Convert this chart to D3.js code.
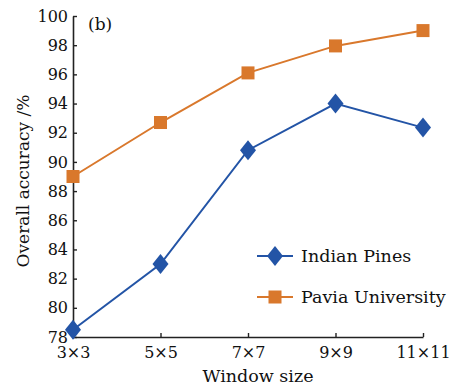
<!DOCTYPE html>
<html>
<head>
<meta charset="utf-8">
<script src="https://cdn.jsdelivr.net/npm/d3@7"></script>
<style>
  body { margin: 0; background: #fff; }
  text { font-family: "DejaVu Serif", serif; fill: #111; }
</style>
</head>
<body>
<div id="chart"></div>
<script>
// window sizes on the x axis
const windowSizes = ["3×3", "5×5", "7×7", "9×9", "11×11"];
// overall accuracy (%) for each data set
const indianPines = [78.5, 83.0, 90.8, 94.0, 92.35];
const paviaUniversity = [89.0, 92.7, 96.1, 97.95, 99.0];
const yTicks = [78, 80, 82, 84, 86, 88, 90, 92, 94, 96, 98, 100];

const width = 462, height = 388;
const margin = {top: 16, right: 39, bottom: 51, left: 73};

let svg = d3.select("#chart").append("svg")
    .attr("width", width)
    .attr("height", height);

let x = d3.scalePoint()
    .domain(windowSizes)
    .range([margin.left, width - margin.right]);

let y = d3.scaleLinear()
    .domain([78, 100])
    .range([height - margin.bottom, margin.top]);

// axes, ticks pointing inward
let xAxis = svg.append("g")
    .attr("transform", "translate(0," + (height - margin.bottom) + ")")
    .call(d3.axisBottom(x).tickSizeInner(-4).tickSizeOuter(0).tickPadding(10));
let yAxis = svg.append("g")
    .attr("transform", "translate(" + margin.left + ",0)")
    .call(d3.axisLeft(y).tickValues(yTicks).tickSizeInner(-4).tickSizeOuter(0).tickPadding(5));

[xAxis, yAxis].forEach(a => {
    a.select(".domain").attr("stroke", "#222").attr("stroke-width", 1.6);
    a.selectAll(".tick line").attr("stroke", "#222").attr("stroke-width", 1.4);
    a.selectAll(".tick text")
        .style("font-family", "DejaVu Serif")
        .style("font-size", "16px")
        .attr("fill", "#111");
});

const series = [
    {name: "Indian Pines", values: indianPines, color: "#2354a6", shape: "diamond"},
    {name: "Pavia University", values: paviaUniversity, color: "#d9782c", shape: "square"}
];

function marker(g, shape, color) {
    if (shape === "diamond") {
        g.append("path")
            .attr("d", "M0,-10L8,0L0,10L-8,0Z")
            .attr("fill", color);
    } else {
        g.append("rect")
            .attr("x", -6.5).attr("y", -6.5)
            .attr("width", 13).attr("height", 13)
            .attr("fill", color);
    }
}

let line = d3.line()
    .x((d, i) => x(windowSizes[i]))
    .y(d => y(d));

series.forEach(s => {
    svg.append("path")
        .datum(s.values)
        .attr("d", line)
        .attr("fill", "none")
        .attr("stroke", s.color)
        .attr("stroke-width", 2);
    s.values.forEach((v, i) => {
        let g = svg.append("g")
            .attr("transform", "translate(" + x(windowSizes[i]) + "," + y(v) + ")");
        marker(g, s.shape, s.color);
    });
});

// legend
let legendX = 257, legendY = [256, 297];
series.forEach((s, i) => {
    let g = svg.append("g")
        .attr("transform", "translate(" + legendX + "," + legendY[i] + ")");
    g.append("line")
        .attr("x1", 0).attr("x2", 36)
        .attr("stroke", s.color)
        .attr("stroke-width", 2);
    let m = g.append("g").attr("transform", "translate(18,0)");
    marker(m, s.shape, s.color);
    g.append("text")
        .attr("x", 44)
        .attr("y", 6)
        .style("font-size", "17.5px")
        .text(s.name);
});

// axis titles
svg.append("text")
    .attr("x", (margin.left + width - margin.right) / 2 + 10)
    .attr("y", 382)
    .attr("text-anchor", "middle")
    .style("font-size", "17.5px")
    .text("Window size");

svg.append("text")
    .attr("transform", "translate(29," + 181 + ") rotate(-90)")
    .attr("text-anchor", "middle")
    .style("font-size", "17px")
    .text("Overall accuracy /%");

svg.append("text")
    .attr("x", 88)
    .attr("y", 30)
    .style("font-size", "17px")
    .text("(b)");
</script>
</body>
</html>
